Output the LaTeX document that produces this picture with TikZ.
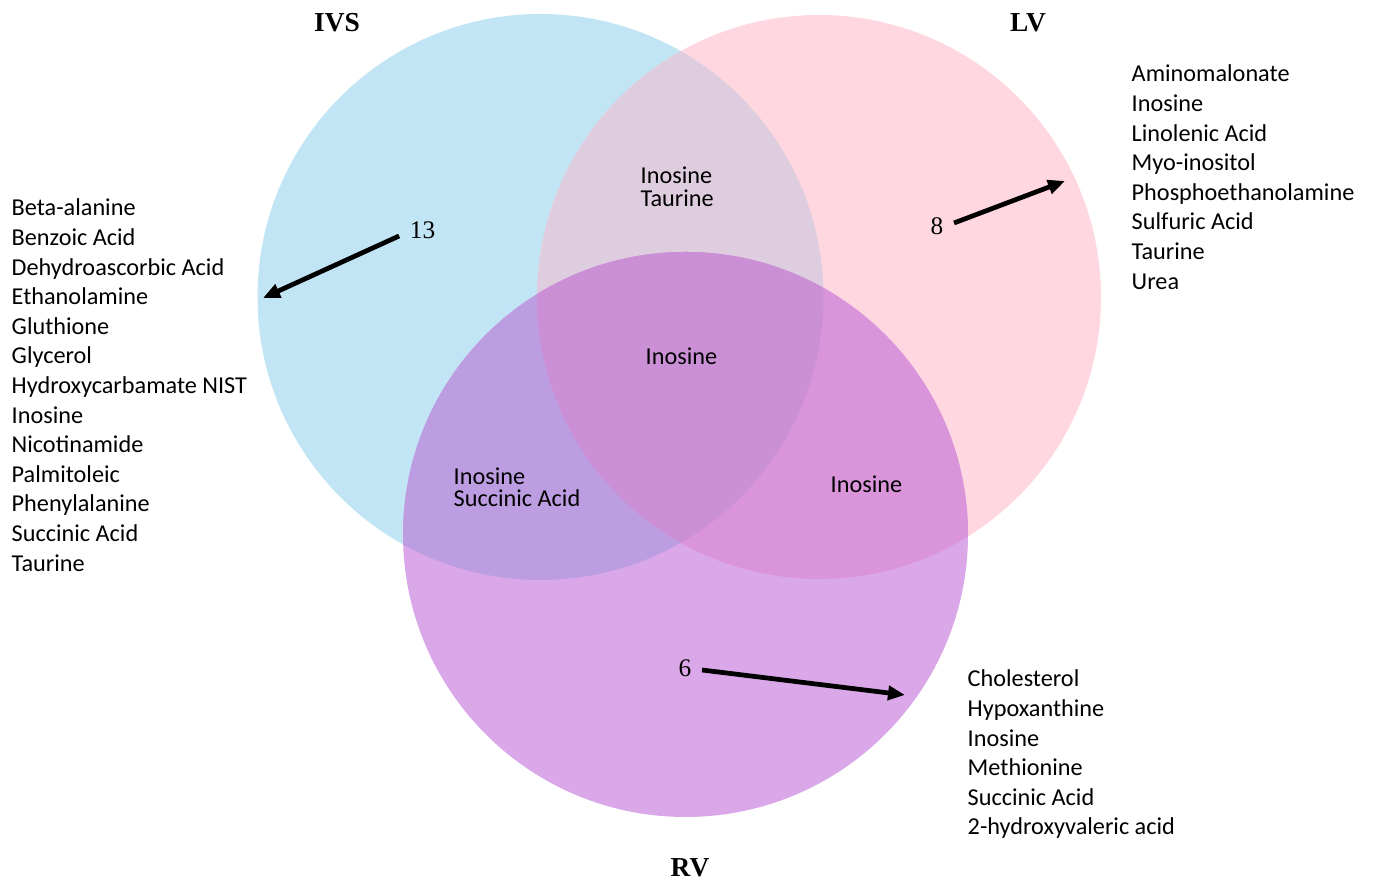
\documentclass[tikz,border=0pt]{standalone}
\usepackage{fontspec}
\setsansfont{Carlito}
\setmainfont{Liberation Serif}
\usepackage{tikz}
\usetikzlibrary{arrows.meta,positioning}
\definecolor{ivsblue}{HTML}{C1E5F4}
\definecolor{lvpink}{HTML}{FED7E0}
\definecolor{rvpurple}{HTML}{DAA8E8}
\definecolor{ivslv}{HTML}{DECDDE}
\definecolor{ivsrv}{HTML}{BD9DE1}
\definecolor{lvrv}{HTML}{DA94DA}
\definecolor{allthree}{HTML}{CB8FD6}
\tikzset{
  setname/.style={font=\rmfamily\bfseries\fontsize{7.8}{9}\selectfont,inner sep=0pt},
  count/.style={font=\rmfamily\fontsize{7.2}{8}\selectfont,inner sep=0pt},
  item/.style={font=\sffamily\fontsize{6.9}{8.4}\selectfont,inner sep=0pt,anchor=base west},
  cntarr/.style={-{Triangle[length=1.7mm,width=1.4mm]},black,line width=1.35pt},
}

\begin{document}
\begin{tikzpicture}
  \useasboundingbox (0,0) rectangle (13.73,8.81);
  \coordinate (ivs) at (5.405,5.84);
  \coordinate (lv)  at (8.19,5.84);
  \coordinate (rv)  at (6.855,3.465);
  % circles and overlaps
  \fill[ivsblue]  (ivs) circle (2.83);
  \fill[lvpink]   (lv)  circle (2.82);
  \fill[rvpurple] (rv)  circle (2.825);
  \begin{scope}
    \clip (ivs) circle (2.83);
    \fill[ivslv] (lv) circle (2.82);
    \fill[ivsrv] (rv) circle (2.825);
  \end{scope}
  \begin{scope}
    \clip (lv) circle (2.82);
    \fill[lvrv] (rv) circle (2.825);
    \clip (ivs) circle (2.83);
    \fill[allthree] (rv) circle (2.825);
  \end{scope}
  % set names
  \node[setname] (tivs) at (3.37,8.58) {IVS};
  \node[setname] (tlv)  at (10.28,8.58) {LV};
  \node[setname] (trv)  at (6.90,0.13) {RV};
  % overlap contents
  \node[item] (ab1) at (6.40,6.97) {Inosine};
  \node[item] (ab2) at (6.40,6.74) {Taurine};
  \node[item] (abc) at (6.45,5.16) {Inosine};
  \node[item] (ac1) at (4.53,3.96) {Inosine};
  \node[item] (ac2) at (4.53,3.74) {Succinic Acid};
  \node[item] (bc)  at (8.30,3.88) {Inosine};
  % unique counts
  \node[count] (n13) at (4.225,6.51) {13};
  \node[count] (n8)  at (9.37,6.55) {8};
  \node[count] (n6)  at (6.85,2.13) {6};
  \coordinate (t13) at (2.63,5.83);
  \coordinate (t8)  at (10.65,7.00);
  \coordinate (t6)  at (9.05,1.86);
  \draw[cntarr] ([xshift=-1.0mm,yshift=-0.6mm]n13.west) -- (t13);
  \draw[cntarr] ([xshift=1.0mm,yshift=0.3mm]n8.east) -- (t8);
  \draw[cntarr] ([xshift=1.0mm,yshift=-0.2mm]n6.east) -- (t6);
  % lists
  \foreach \t [count=\i] in {Beta-alanine,Benzoic Acid,Dehydroascorbic Acid,Ethanolamine,
      Gluthione,Glycerol,Hydroxycarbamate NIST,Inosine,Nicotinamide,Palmitoleic,
      Phenylalanine,Succinic Acid,Taurine}
    \node[item] (ivs\i) at (0.11,6.65-\i*0.296+0.296) {\t};
  \foreach \t [count=\i] in {Aminomalonate,Inosine,Linolenic Acid,Myo-inositol,
      Phosphoethanolamine,Sulfuric Acid,Taurine,Urea}
    \node[item] (lv\i) at (11.31,7.99-\i*0.296+0.296) {\t};
  \foreach \t [count=\i] in {Cholesterol,Hypoxanthine,Inosine,Methionine,
      Succinic Acid,2-hydroxyvaleric acid}
    \node[item] (rv\i) at (9.67,1.94-\i*0.296+0.296) {\t};
\end{tikzpicture}
\end{document}
